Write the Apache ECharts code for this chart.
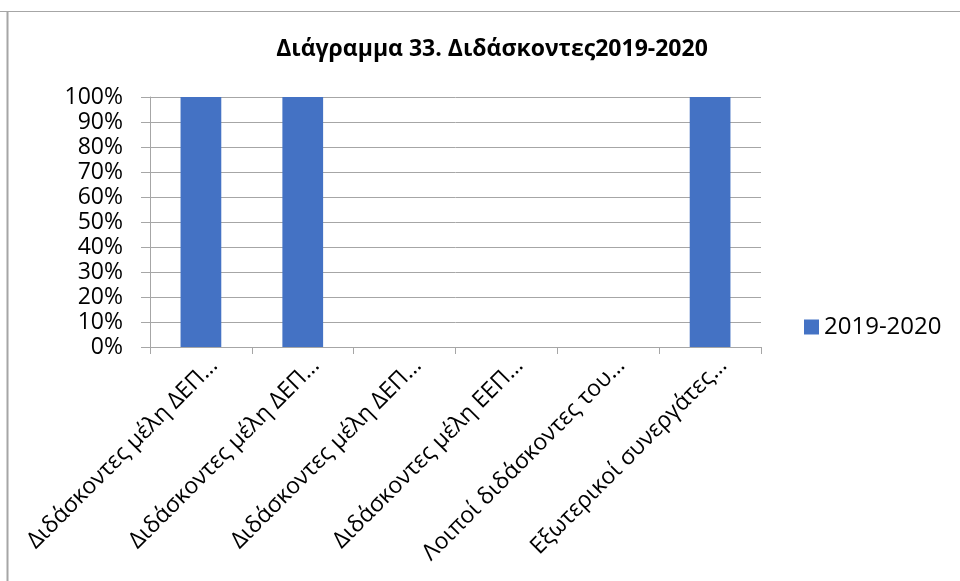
<!DOCTYPE html>
<html>
<head>
<meta charset="utf-8">
<script src="https://cdn.jsdelivr.net/npm/echarts@6/dist/echarts.min.js"></script>
<style>
html,body{margin:0;padding:0;background:#fff;}
#chart{width:960px;height:581px;}
</style>
</head>
<body>
<div id="chart"></div>
<script>
// κατηγορίες όπως φαίνονται (κομμένες) στο πρωτότυπο
const categories = [
  'Διδάσκοντες μέλη ΔΕΠ…',
  'Διδάσκοντες μέλη ΔΕΠ…',
  'Διδάσκοντες μέλη ΔΕΠ…',
  'Διδάσκοντες μέλη ΕΕΠ…',
  'Λοιποί διδάσκοντες του…',
  'Εξωτερικοί συνεργάτες…'
];
const seriesName = '2019-2020';
const values = [100, 100, 0, 0, 0, 100];
const titleText = 'Διάγραμμα 33. Διδάσκοντες2019-2020';

const font = 'Open Sans';
const chart = echarts.init(document.getElementById('chart'));
const option = {
  animation: false,
  title: {
    text: titleText,
    left: 487,
    top: 33,
    textAlign: 'center',
    textStyle: {fontFamily: font, fontSize: 23, fontWeight: 'bold', color: '#000'}
  },
  legend: {
    data: [seriesName],
    left: 804,
    top: 315,
    padding: 0,
    orient: 'vertical',
    itemWidth: 15,
    itemHeight: 15,
    icon: 'rect',
    textStyle: {fontFamily: font, fontSize: 24, color: '#000'}
  },
  grid: {left: 150, right: 199, top: 97, bottom: 234, containLabel: false},
  xAxis: {
    type: 'category',
    data: categories,
    axisLine: {lineStyle: {color: '#a6a6a6', width: 1}},
    axisTick: {show: true, length: 7, lineStyle: {color: '#a6a6a6'}},
    axisLabel: {
      rotate: 45,
      interval: 0,
      margin: 2,
      verticalAlign: 'top',
      lineHeight: 37,
      fontFamily: font,
      fontSize: 23,
      color: '#000'
    }
  },
  yAxis: {
    type: 'value',
    min: 0,
    max: 100,
    interval: 10,
    axisLine: {show: true, lineStyle: {color: '#a6a6a6'}},
    axisTick: {show: true, length: 9, lineStyle: {color: '#a6a6a6'}},
    splitLine: {lineStyle: {color: '#a6a6a6'}},
    axisLabel: {
      formatter: '{value}%',
      margin: 27,
      fontFamily: font,
      fontSize: 23,
      color: '#000'
    }
  },
  series: [{
    name: seriesName,
    type: 'bar',
    data: values,
    barWidth: '40%',
    itemStyle: {color: '#4472C4'}
  }],
  graphic: [
    {type: 'line', shape: {x1: 0, y1: 11.5, x2: 960, y2: 11.5}, style: {stroke: '#a6a6a6', lineWidth: 1}},
    {type: 'line', shape: {x1: 7.5, y1: 11, x2: 7.5, y2: 581}, style: {stroke: '#a6a6a6', lineWidth: 2}}
  ]
};
chart.setOption(option);
</script>
</body>
</html>
